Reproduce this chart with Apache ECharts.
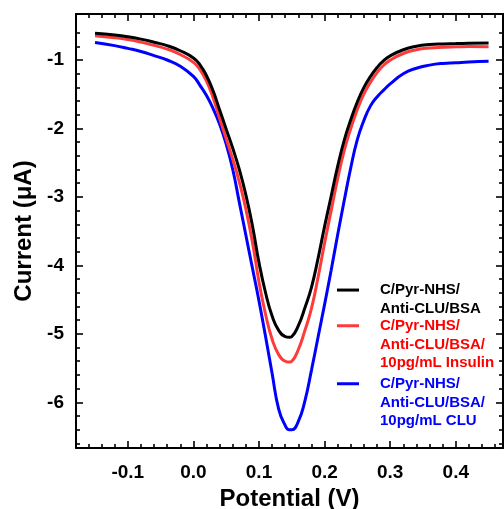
<!DOCTYPE html>
<html><head><meta charset="utf-8">
<script src="https://cdn.jsdelivr.net/npm/echarts@6/dist/echarts.min.js"></script>
<style>html,body{margin:0;padding:0;background:#fff}#c{width:504px;height:509px}</style>
</head><body><div id="c"></div>
<script>
// Potential (V)
const potential = [-0.15,-0.12,-0.10,-0.08,-0.06,-0.04,-0.02,0.00,0.01,0.02,0.03,0.04,0.05,0.06,0.07,0.08,0.09,0.10,0.11,0.12,0.13,0.14,0.146,0.15,0.16,0.17,0.18,0.19,0.20,0.21,0.22,0.23,0.24,0.25,0.26,0.27,0.28,0.29,0.30,0.32,0.34,0.36,0.38,0.40,0.42,0.45];
// Current (uA)
const currentBSA = [-0.61,-0.635,-0.66,-0.695,-0.74,-0.79,-0.865,-0.97,-1.07,-1.23,-1.45,-1.73,-2.01,-2.29,-2.60,-2.97,-3.42,-3.96,-4.40,-4.74,-4.95,-5.04,-5.05,-5.04,-4.88,-4.62,-4.32,-3.90,-3.43,-2.99,-2.55,-2.17,-1.87,-1.61,-1.40,-1.24,-1.11,-1.01,-0.94,-0.85,-0.80,-0.775,-0.765,-0.76,-0.755,-0.75];
const currentInsulin = [-0.645,-0.674,-0.701,-0.739,-0.787,-0.841,-0.92,-1.035,-1.14,-1.31,-1.55,-1.85,-2.15,-2.45,-2.783,-3.18,-3.663,-4.242,-4.714,-5.079,-5.304,-5.401,-5.412,-5.401,-5.229,-4.95,-4.628,-4.178,-3.673,-3.201,-2.729,-2.321,-1.999,-1.72,-1.495,-1.324,-1.184,-1.077,-1.002,-0.905,-0.851,-0.825,-0.814,-0.808,-0.803,-0.805];
const currentCLU = [-0.745,-0.79,-0.83,-0.875,-0.935,-1.00,-1.09,-1.24,-1.37,-1.52,-1.71,-1.94,-2.23,-2.60,-3.08,-3.56,-4.04,-4.52,-5.04,-5.58,-6.10,-6.34,-6.40,-6.40,-6.28,-5.98,-5.53,-5.05,-4.57,-4.07,-3.55,-3.05,-2.57,-2.16,-1.88,-1.67,-1.54,-1.44,-1.35,-1.20,-1.12,-1.075,-1.05,-1.04,-1.03,-1.02];

const seriesNames = ['C/Pyr-NHS/ Anti-CLU/BSA','C/Pyr-NHS/ Anti-CLU/BSA/ 10pg/mL Insulin','C/Pyr-NHS/ Anti-CLU/BSA/ 10pg/mL CLU'];
const legendLines = [['C/Pyr-NHS/','Anti-CLU/BSA'],['C/Pyr-NHS/','Anti-CLU/BSA/','10pg/mL Insulin'],['C/Pyr-NHS/','Anti-CLU/BSA/','10pg/mL CLU']];

const xTickLabels = [-0.1,0.0,0.1,0.2,0.3,0.4];
const xMinorTicks = [-0.16,-0.14,-0.12,-0.08,-0.06,-0.04,-0.02,0.02,0.04,0.06,0.08,0.12,0.14,0.16,0.18,0.22,0.24,0.26,0.28,0.32,0.34,0.36,0.38,0.42,0.44,0.46];
const yTickLabels = [-1,-2,-3,-4,-5,-6];
const yMinorTicks = [-0.6,-0.8,-1.2,-1.4,-1.6,-1.8,-2.2,-2.4,-2.6,-2.8,-3.2,-3.4,-3.6,-3.8,-4.2,-4.4,-4.6,-4.8,-5.2,-5.4,-5.6,-5.8,-6.2,-6.4,-6.6];

const FONT = '"Liberation Sans", Arial, Helvetica, sans-serif';
const XMIN = -0.179, XMAX = 0.472, YMIN = -6.668, YMAX = -0.328;
const lineColors = ['#000000','#ff3a3a','#0000ff'];
const textColors = ['#000000','#ff0000','#0000ff'];
const legendTops = [262, 279, 337];

function axisBase(extra) {
  return Object.assign({
    type: 'value', scale: true,
    splitLine: {show: false},
    axisLine: {show: false, onZero: false, lineStyle: {color: '#000', width: 2}},
    axisLabel: {show: false},
    axisTick: {show: false}
  }, extra);
}
function ticks(vals, len) {
  return {show: true, inside: true, length: len, customValues: vals, lineStyle: {color: '#000', width: 1.6}};
}
const labelStyle = {color: '#000', fontSize: 19, fontWeight: 'bold', fontFamily: FONT};

const xAxes = [
  axisBase({position: 'bottom', min: XMIN, max: XMAX,
    axisLine: {show: true, onZero: false, lineStyle: {color: '#000', width: 2}},
    axisTick: ticks(xTickLabels, 7),
    axisLabel: Object.assign({show: true, customValues: xTickLabels, margin: 15, formatter: v => Number(v).toFixed(1)}, labelStyle),
    name: 'Potential (V)', nameLocation: 'middle', nameGap: 38,
    nameTextStyle: {color: '#000', fontSize: 24, fontWeight: 'bold', fontFamily: FONT}}),
  axisBase({position: 'bottom', min: XMIN, max: XMAX, axisTick: ticks(xMinorTicks, 4)}),
  axisBase({position: 'top', min: XMIN, max: XMAX,
    axisLine: {show: true, onZero: false, lineStyle: {color: '#000', width: 2}},
    axisTick: ticks(xTickLabels, 7)}),
  axisBase({position: 'top', min: XMIN, max: XMAX, axisTick: ticks(xMinorTicks, 4)})
];
const yAxes = [
  axisBase({position: 'left', min: YMIN, max: YMAX,
    axisLine: {show: true, onZero: false, lineStyle: {color: '#000', width: 2}},
    axisTick: ticks(yTickLabels, 7),
    axisLabel: Object.assign({show: true, customValues: yTickLabels, margin: 12, formatter: v => String(Math.round(v))}, labelStyle),
    name: 'Current (\u03BCA)', nameLocation: 'middle', nameGap: 32,
    nameTextStyle: {color: '#000', fontSize: 24, fontWeight: 'bold', fontFamily: FONT}}),
  axisBase({position: 'left', min: YMIN, max: YMAX, axisTick: ticks(yMinorTicks, 4)}),
  axisBase({position: 'right', min: YMIN, max: YMAX,
    axisLine: {show: true, onZero: false, lineStyle: {color: '#000', width: 2}},
    axisTick: ticks(yTickLabels, 7)}),
  axisBase({position: 'right', min: YMIN, max: YMAX, axisTick: ticks(yMinorTicks, 4)})
];

const seriesData = [currentBSA, currentInsulin, currentCLU];
const series = seriesData.map((vals, i) => ({
  name: seriesNames[i], type: 'line', xAxisIndex: 0, yAxisIndex: 0,
  data: potential.map((x, j) => [x, vals[j]]),
  showSymbol: false, smooth: 0.5,
  lineStyle: {color: lineColors[i], width: 3},
  itemStyle: {color: lineColors[i]},
  z: 3 - i
}));

const legends = legendLines.map((lines, i) => ({
  data: [seriesNames[i]], orient: 'vertical', left: 337, top: legendTops[i], padding: 0,
  itemWidth: 22, itemHeight: 3, icon: 'rect', selectedMode: false,
  formatter: () => '\n'.repeat(lines.length - 1) + lines.join('\n'),
  textStyle: {color: textColors[i], fontSize: 15, fontWeight: 'bold', fontFamily: FONT, lineHeight: 18.7, padding: [0, 0, 0, 16]}
}));

const chart = echarts.init(document.getElementById('c'));
chart.setOption({
  animation: false,
  backgroundColor: '#fff',
  grid: {left: 76, top: 14, right: 1, bottom: 61, containLabel: false, outerBoundsMode: 'none'},
  xAxis: xAxes,
  yAxis: yAxes,
  legend: legends,
  series: series
});
</script></body></html>
